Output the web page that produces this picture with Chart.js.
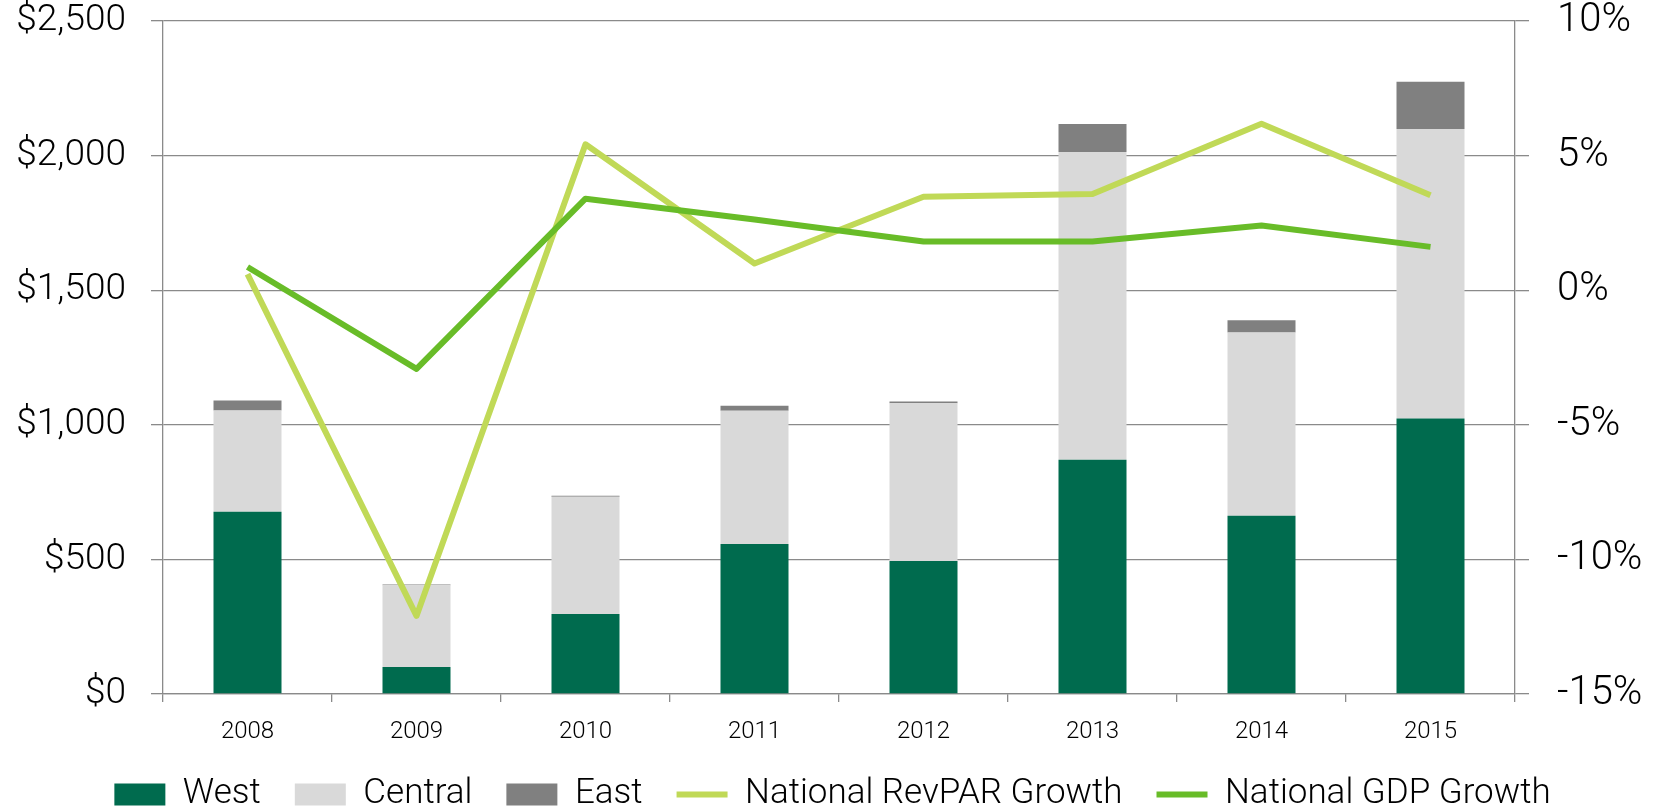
<!DOCTYPE html>
<html><head><meta charset="utf-8">
<script src="https://cdn.jsdelivr.net/npm/chart.js@4.4.1/dist/chart.umd.min.js"></script>
<style>html,body{margin:0;padding:0;background:#fff;}canvas{display:block;}</style>
</head><body>
<canvas id="c" width="1665" height="809"></canvas>
<script>
const categories = ['2008', '2009', '2010', '2011', '2012', '2013', '2014', '2015'];
const west = [677, 100, 297, 557, 494, 870, 662, 1023];
const central = [376, 304, 436, 495, 586, 1143, 681, 1076];
const east = [37, 3, 3, 19, 7, 104, 45, 175];
const revparGrowth = [0.6, -12.1, 5.42, 0.99, 3.47, 3.57, 6.18, 3.53];
const gdpGrowth = [0.86, -2.92, 3.4, 2.63, 1.81, 1.81, 2.4, 1.61];
const leftTicks = [0, 500, 1000, 1500, 2000, 2500];
const rightTicks = [-15, -10, -5, 0, 5, 10];

const FONT = 'Roboto';
const GRID = '#8a8a8a';

const legendShift = {
  id: 'legendShift',
  afterLayout(chart) {
    const l = chart.legend;
    if (l) { l.top -= 3; l.bottom -= 3; }
  }
};

new Chart(document.getElementById('c'), {
  type: 'bar',
  data: {
    labels: categories,
    datasets: [
      { label: 'West', data: west, backgroundColor: '#006B4E', stack: 's', yAxisID: 'y', order: 2 },
      { label: 'Central', data: central, backgroundColor: '#D9D9D9', stack: 's', yAxisID: 'y', order: 2 },
      { label: 'East', data: east, backgroundColor: '#808080', stack: 's', yAxisID: 'y', order: 2 },
      { type: 'line', label: 'National RevPAR Growth', data: revparGrowth, borderColor: '#C0D957', backgroundColor: '#C0D957',
        borderWidth: 6, pointRadius: 0, pointHoverRadius: 0, yAxisID: 'y1', order: 1, fill: false, tension: 0,
        borderCapStyle: 'butt', borderJoinStyle: 'round' },
      { type: 'line', label: 'National GDP Growth', data: gdpGrowth, borderColor: '#68BC28', backgroundColor: '#68BC28',
        borderWidth: 6, pointRadius: 0, pointHoverRadius: 0, yAxisID: 'y1', order: 0, fill: false, tension: 0,
        borderCapStyle: 'butt', borderJoinStyle: 'round' }
    ]
  },
  options: {
    responsive: false,
    animation: false,
    layout: { padding: { top: 0, left: 0, right: 0, bottom: -16 } },
    datasets: { bar: { barPercentage: 0.4024, categoryPercentage: 1, borderWidth: 0 } },
    plugins: {
      tooltip: { enabled: false },
      legend: {
        position: 'bottom',
        labels: {
          font: { family: FONT, size: 35, weight: 300 },
          color: '#000',
          usePointStyle: true,
          pointStyleWidth: 51,
          boxHeight: 22,
          padding: 34,
          generateLabels(chart) {
            return chart.data.datasets.map((ds, i) => {
              const isLine = ds.type === 'line';
              const c = isLine ? ds.borderColor : ds.backgroundColor;
              return { text: ds.label, fillStyle: c, strokeStyle: c, lineWidth: isLine ? 6 : 0,
                pointStyle: isLine ? 'line' : 'rect', hidden: false, datasetIndex: i, fontColor: '#000' };
            });
          }
        }
      }
    },
    scales: {
      x: {
        stacked: true,
        grid: { offset: true, drawOnChartArea: false, drawTicks: true, tickLength: 8, color: GRID, lineWidth: 1.3 },
        border: { display: true, color: GRID, width: 1.3 },
        ticks: { font: { family: FONT, size: 24, weight: 300 }, color: '#000', padding: 16, maxRotation: 0 },
        afterFit(s) { s.height = 52; }
      },
      y: {
        stacked: true, position: 'left', min: 0, max: 2500,
        grid: { color: GRID, lineWidth: 1.3, tickLength: 12 },
        border: { display: true, color: GRID, width: 1.3 },
        ticks: { padding: 25, color: '#000', font: { family: FONT, size: 37, weight: 300, lineHeight: 1.15 },
          callback: v => '$' + Number(v).toLocaleString('en-US') },
        afterBuildTicks(s) { s.ticks = leftTicks.map(v => ({ value: v })); },
        afterFit(s) { s.width = 163; s.paddingTop = 21; s.paddingBottom = 0; }
      },
      y1: {
        position: 'right', min: -15, max: 10,
        grid: { drawOnChartArea: false, tickLength: 14, color: GRID, lineWidth: 1.3 },
        border: { display: true, color: GRID, width: 1.3 },
        ticks: { padding: 28, color: '#000', font: { family: FONT, size: 40, weight: 300, lineHeight: 1.06 },
          callback: v => v + '%' },
        afterBuildTicks(s) { s.ticks = rightTicks.map(v => ({ value: v })); },
        afterFit(s) { s.width = 150; s.paddingTop = 21; s.paddingBottom = 0; }
      }
    }
  },
  plugins: [legendShift]
});
</script>
</body></html>
